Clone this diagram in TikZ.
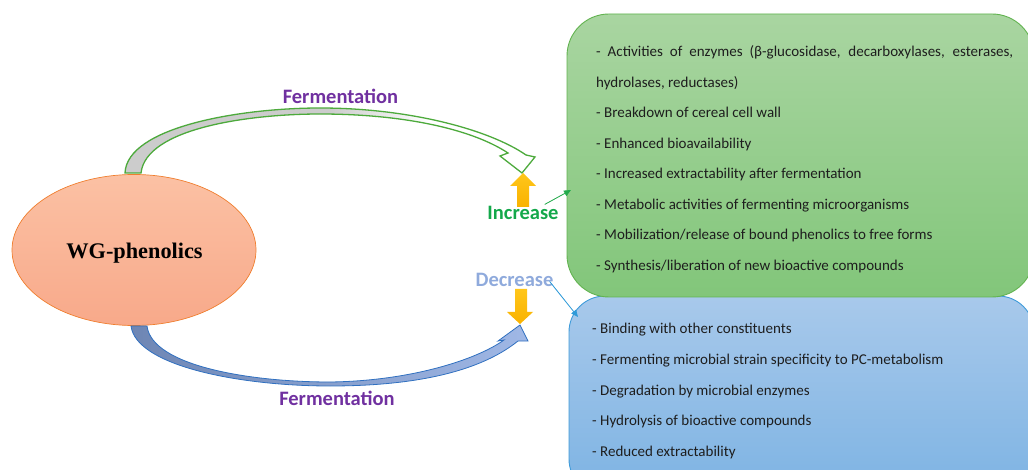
\documentclass[tikz,border=0pt]{standalone}
\usepackage{fontspec}
\setmainfont{Carlito}
\newfontfamily\timesfont{Liberation Serif}
\usetikzlibrary{arrows.meta,shapes.geometric}
\definecolor{gtop}{HTML}{A9D5A1}
\definecolor{gbot}{HTML}{82C67A}
\definecolor{gline}{HTML}{62B350}
\definecolor{aline}{HTML}{4DAA3C}
\definecolor{btop}{HTML}{A8C9EB}
\definecolor{bbot}{HTML}{7DB3E3}
\definecolor{bline}{HTML}{3E9BDA}
\definecolor{etop}{HTML}{FBC1A4}
\definecolor{ebot}{HTML}{F8A98A}
\definecolor{eline}{HTML}{F07E2E}
\definecolor{purp}{HTML}{7030A0}
\definecolor{incg}{HTML}{13A84A}
\definecolor{decb}{HTML}{8FAADC}
\definecolor{ytop}{HTML}{FFC61A}
\definecolor{ybot}{HTML}{F9B200}
\definecolor{txt}{HTML}{1E1E1E}
\definecolor{arrdark}{HTML}{6E86B4}
\definecolor{arrlight}{HTML}{A0B8E6}
\definecolor{arrline}{HTML}{3070C0}
\definecolor{thinb}{HTML}{2E9AD8}
\pgfdeclarehorizontalshading{grayfade}{100bp}{color(0bp)=(black!20); color(30bp)=(black!20); color(50bp)=(black!20); color(62bp)=(white); color(100bp)=(white)}
\tikzset{
  box/.style={draw, line width=0.9pt, inner sep=0pt},
  itemtxt/.style={anchor=base west, inner sep=0pt, text=txt, font=\fontsize{15}{17}\selectfont},
  bigtxt/.style={inner sep=0pt, font=\fontsize{20.5}{23}\selectfont\bfseries},
  yarrow/.style={top color=ytop, bottom color=ybot, draw=none},
  thinarrow/.style={line width=0.8pt, -{Triangle[length=7pt,width=6pt]}}
}
\begin{document}
\begin{tikzpicture}[x=1pt,y=-1pt]
\useasboundingbox (0,0) rectangle (1028,470);
% boxes
\node[box, draw=bline, top color=btop, bottom color=bbot, rounded corners=36pt,
      minimum width=465pt, minimum height=199pt] (dec) at (801.5,395.5) {};
\node[box, draw=gline, top color=gtop, bottom color=gbot, rounded corners=42pt,
      minimum width=467pt, minimum height=283pt] (inc) at (800.5,155.5) {};
% ellipse
\node[ellipse, draw=eline, line width=0.7pt, top color=etop, bottom color=ebot,
      minimum width=244pt, minimum height=151pt, inner sep=0pt] (wg) at (134,250) {};
\node[inner sep=0pt, font=\timesfont\fontsize{22.3}{25}\selectfont\bfseries] (wgt) at (134.5,253) {WG-phenolics};
% upper curved block arrow
\path[draw=aline, line width=1.3pt, shading=grayfade, line join=miter]
  (125,173) .. controls (127,127) and (240,108) .. (320,108)
  .. controls (410,108) and (490,130) .. (526,155)
  -- (535,157) -- (522,173) -- (500,156) -- (508,153)
  .. controls (470,128) and (400,114) .. (320,114)
  .. controls (250,114) and (146,128) .. (141,173) -- cycle;
% lower curved block arrow
\path[draw=arrline, line width=0.8pt, left color=arrdark, right color=arrlight]
  (131,326) .. controls (136,366) and (240,386) .. (330,386)
  .. controls (420,386) and (482,370) .. (518,341)
  -- (528,341) -- (520,325) -- (498,341) -- (504,340)
  .. controls (476,360) and (410,381) .. (330,382)
  .. controls (250,382) and (152,366) .. (147,326) -- cycle;
% labels
\node[bigtxt, text=purp, anchor=base] (f1) at (340.5,104) {Fermentation};
\node[bigtxt, text=purp, anchor=base] (f2) at (337,405) {Fermentation};
\node[bigtxt, text=incg, anchor=base] (incl) at (523,220) {Increase};
\node[bigtxt, text=decb, anchor=base] (decl) at (514.5,287) {Decrease};
% yellow arrows
\path[yarrow] (523,173) -- (536,186) -- (529,186) -- (529,207) -- (517,207) -- (517,186) -- (510,186) -- cycle;
\path[yarrow] (515,289) -- (527,289) -- (527,312) -- (533,312) -- (520,324) -- (507,312) -- (515,312) -- cycle;
% thin arrows
\coordinate (gend) at (571,190);
\coordinate (bend) at (578,317);
\draw[thinarrow, draw=incg!80!gline, fill=incg!80!gline] (incl.east) ++(-14,-9) coordinate (gs) (gs) -- (gend);
\draw[thinarrow, draw=thinb, fill=thinb] (decl.east) ++(-4,1) coordinate (bs) (bs) -- (bend);
% green items
\node[itemtxt] (g1) at (596,57) {\makebox[417pt][s]{- Activities of enzymes (β-glucosidase, decarboxylases, esterases,}};
\node[itemtxt] (g2) at (596,87.5) {hydrolases, reductases)};
\node[itemtxt] (g3) at (596,118) {- Breakdown of cereal cell wall};
\node[itemtxt] (g4) at (596,148.5) {- Enhanced bioavailability};
\node[itemtxt] (g5) at (596,179) {- Increased extractability after fermentation};
\node[itemtxt] (g6) at (596,209.5) {- Metabolic activities of fermenting microorganisms};
\node[itemtxt] (g7) at (596,240) {- Mobilization/release of bound phenolics to free forms};
\node[itemtxt] (g8) at (596,270.5) {- Synthesis/liberation of new bioactive compounds};
% blue items
\node[itemtxt] (b1) at (592,334) {- Binding with other constituents};
\node[itemtxt] (b2) at (592,364.5) {- Fermenting microbial strain specificity to PC-metabolism};
\node[itemtxt] (b3) at (592,395) {- Degradation by microbial enzymes};
\node[itemtxt] (b4) at (592,425.5) {- Hydrolysis of bioactive compounds};
\node[itemtxt] (b5) at (592,456) {- Reduced extractability};
\end{tikzpicture}
\end{document}
